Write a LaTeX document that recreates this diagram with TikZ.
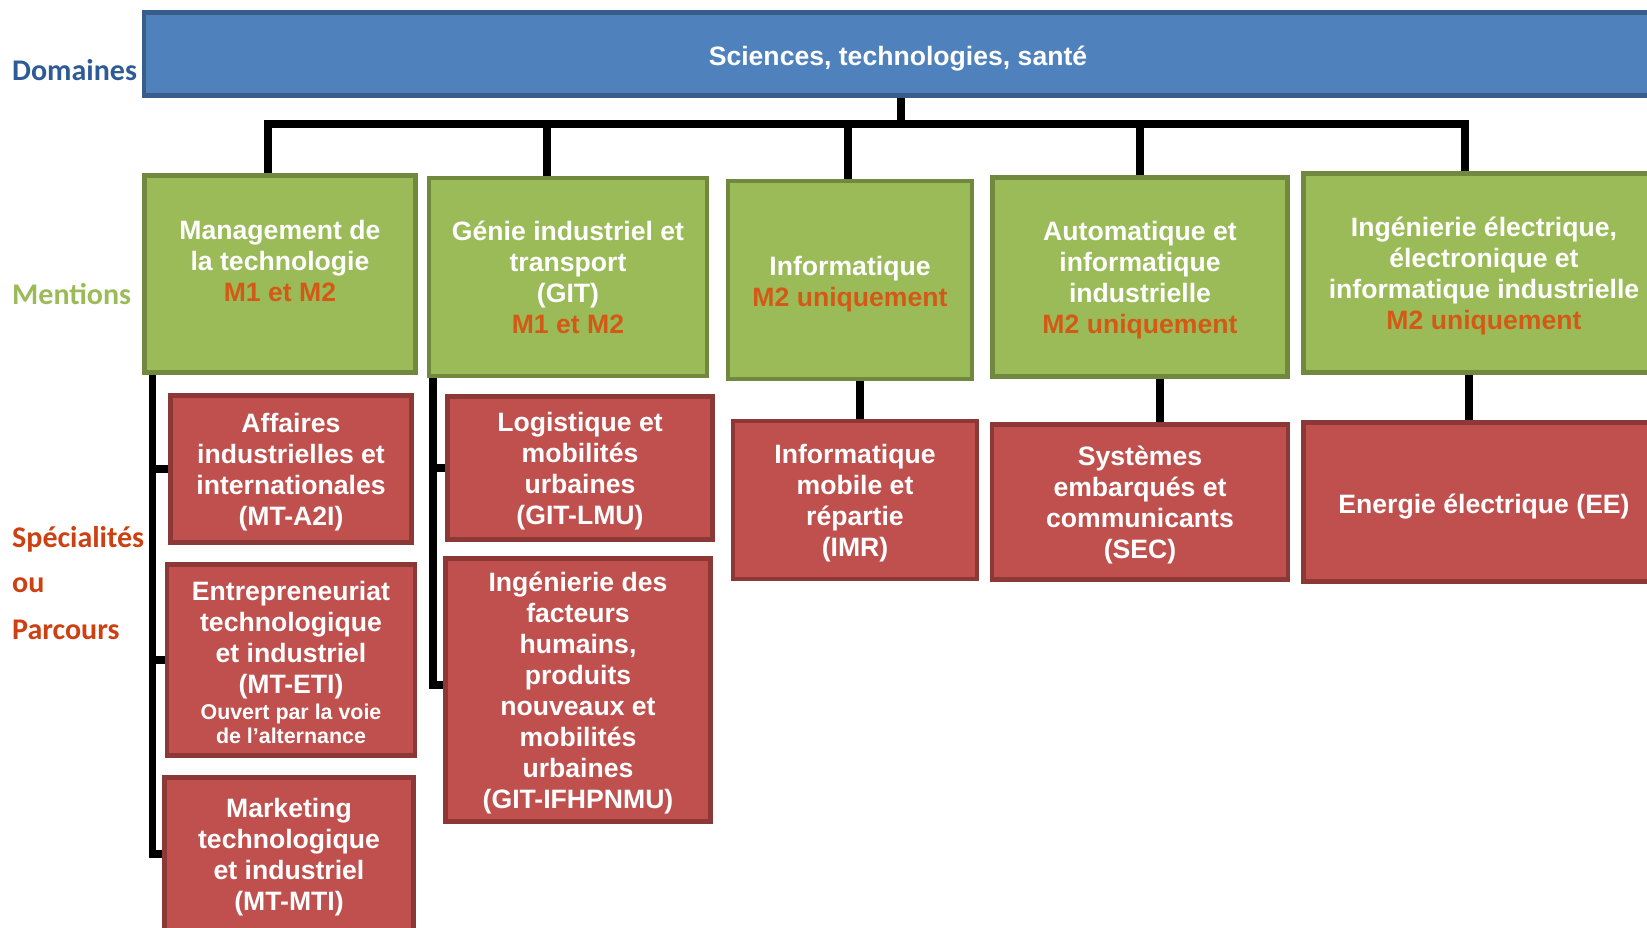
\documentclass[tikz,border=0pt]{standalone}
\usepackage{fontspec}
\setmainfont{Liberation Sans}
\newfontfamily\tagfamily{Carlito}
\usetikzlibrary{positioning}

\definecolor{domfill}{HTML}{4F81BD}
\definecolor{domline}{HTML}{385D8A}
\definecolor{menfill}{HTML}{9BBB59}
\definecolor{menline}{HTML}{71893F}
\definecolor{specfill}{HTML}{C0504D}
\definecolor{specline}{HTML}{8C3836}
\definecolor{levelc}{HTML}{D35A16}
\definecolor{domtag}{HTML}{2E5B95}
\definecolor{spectag}{HTML}{CC4012}

\newcommand{\bodyfont}{\fontsize{26.6}{31}\selectfont\bfseries}
\newcommand{\smallfont}{\fontsize{21.4}{24}\selectfont}
\newcommand{\tagfont}{\tagfamily\bfseries\fontsize{30}{34}\selectfont}
\newcommand{\niveau}[1]{\textcolor{levelc}{#1}}
\newcommand{\lift}[1]{\rule{0pt}{#1pt}}

\begin{document}
\begin{tikzpicture}[x=1pt,y=-1pt,font=\bodyfont]
	\tikzstyle{box}=[draw,line width=4.5pt,align=center,inner sep=0pt,text=white]
	\tikzstyle{dombox}=[box,fill=domfill,draw=domline]
	\tikzstyle{menbox}=[box,fill=menfill,draw=menline]
	\tikzstyle{specbox}=[box,fill=specfill,draw=specline]
	\tikzstyle{link}=[draw,line width=7.5pt]
	\tikzstyle{tag}=[anchor=base west,inner sep=0pt,font=\tagfont]
	
	\useasboundingbox (0,0) rectangle (1647,927);
	\clip (0,0) rectangle (1647,927);
	
	% levels on the left
	\node[tag,text=domtag]  (T_D) at (12,80)  {Domaines};
	\node[tag,text=menfill] (T_M) at (12,304) {Mentions};
	\node[tag,text=spectag] (T_S) at (12,547) {Spécialités};
	\node[tag,text=spectag] (T_O) at (12,592) {ou};
	\node[tag,text=spectag] (T_P) at (12,639) {Parcours};
	
	% domain
	\node[dombox,minimum width=1508,minimum height=83] (D) at (898,54)
		{\lift{29}Sciences, technologies, santé};
	
	% mentions
	\node[menbox,minimum width=271,minimum height=197] (M_1) at (280,274)
		{\lift{24.5}Management de\\la technologie\\\niveau{M1 et M2}\\\mbox{}};
	\node[menbox,minimum width=278,minimum height=198] (M_2) at (568,277)
		{Génie industriel et\\transport\\(GIT)\\\niveau{M1 et M2}};
	\node[menbox,minimum width=244,minimum height=198] (M_3) at (850,280)
		{\lift{27}Informatique\\\niveau{M2 uniquement}};
	\node[menbox,minimum width=295,minimum height=199] (M_4) at (1140,277)
		{\lift{26}Automatique et\\informatique\\industrielle\\\niveau{M2 uniquement}};
	\node[menbox,minimum width=361,minimum height=199] (M_5) at (1484,273)
		{\lift{26}Ingénierie électrique,\\électronique et\\informatique industrielle\\\niveau{M2 uniquement}};
	
	% specialites / parcours
	\node[specbox,minimum width=241,minimum height=147] (S_11) at (291,469)
		{\lift{26}Affaires\\industrielles et\\internationales\\(MT-A2I)};
	\node[specbox,minimum width=248,minimum height=191] (S_12) at (291,660)
		{\lift{24}Entrepreneuriat\\technologique\\et industriel\\(MT-ETI)\\[-5pt]\smallfont Ouvert par la voie\\[-7pt]\smallfont de l’alternance};
	\node[specbox,minimum width=249,minimum height=153] (S_13) at (289,854)
		{\lift{26}Marketing\\technologique\\et industriel\\(MT-MTI)};
	\node[specbox,minimum width=265,minimum height=143] (S_21) at (580,468)
		{\lift{26}Logistique et\\mobilités\\urbaines\\(GIT-LMU)};
	\node[specbox,minimum width=265,minimum height=263] (S_22) at (578,690)
		{\lift{26}Ingénierie des\\facteurs\\humains,\\produits\\nouveaux et\\mobilités\\urbaines\\(GIT-IFHPNMU)};
	\node[specbox,minimum width=244,minimum height=158] (S_31) at (855,500)
		{\lift{26}Informatique\\mobile et\\répartie\\(IMR)};
	\node[specbox,minimum width=296,minimum height=155] (S_41) at (1140,502)
		{\lift{26}Systèmes\\embarqués et\\communicants\\(SEC)};
	\node[specbox,minimum width=361,minimum height=159] (S_51) at (1484,502)
		{\lift{29}Energie électrique (EE)};
	
	% domain to mentions
	\coordinate (bar) at (901,124);
	\draw[link] (D.south -| bar) -- (bar);
	\draw[link] ([xshift=-12pt]M_1.north) |- (bar) -| ([xshift=-19pt]M_5.north);
	\draw[link] ([xshift=-21pt]M_2.north) -- ([xshift=-21pt]M_2.north |- bar);
	\draw[link] ([xshift=-2pt]M_3.north) -- ([xshift=-2pt]M_3.north |- bar);
	\draw[link] (M_4.north) -- (M_4.north |- bar);
	
	% mentions to specialites
	\coordinate (t_1) at ([xshift=10pt]M_1.south west);
	\draw[link] (t_1) |- (S_13.west);
	\draw[link] (t_1 |- S_11.west) -- (S_11.west);
	\draw[link] (t_1 |- S_12.west) -- (S_12.west);
	\coordinate (t_2) at ([xshift=6pt]M_2.south west);
	\draw[link] (t_2) |- ([yshift=5pt]S_22.west);
	\draw[link] (t_2 |- S_21.west) -- (S_21.west);
	\draw[link] ([xshift=10pt]M_3.south) -- ([xshift=10pt]M_3.south |- S_31.north);
	\draw[link] ([xshift=20pt]M_4.south) -- ([xshift=20pt]M_4.south |- S_41.north);
	\draw[link] ([xshift=-15pt]M_5.south) -- ([xshift=-15pt]M_5.south |- S_51.north);
\end{tikzpicture}
\end{document}
